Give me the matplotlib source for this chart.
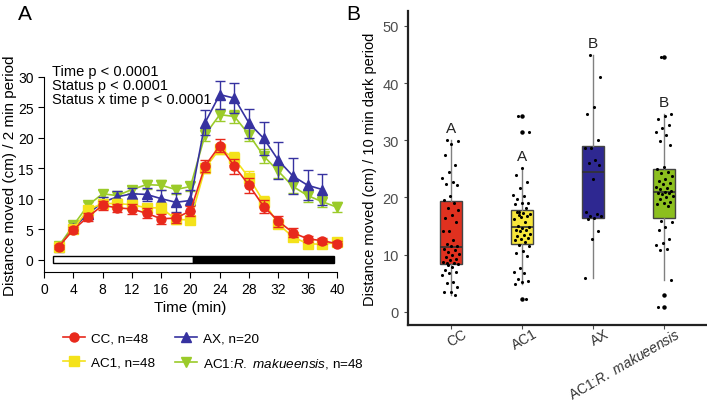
import numpy as np
import matplotlib
matplotlib.use('Agg')
import matplotlib.pyplot as plt
import matplotlib.transforms as mtransforms
from matplotlib.lines import Line2D
from matplotlib.patches import Rectangle

plt.rcParams['font.family'] = ['Liberation Sans', 'DejaVu Sans']
plt.rcParams['mathtext.fontset'] = 'custom'
plt.rcParams['mathtext.it'] = 'Liberation Sans:italic'
plt.rcParams['mathtext.rm'] = 'Liberation Sans'

# ---- panel A: time course ----
t = np.arange(2, 41, 2)
cc = [2.1, 4.9, 7.0, 8.9, 8.5, 8.3, 7.6, 6.7, 6.8, 8.0, 15.4, 18.7, 15.3, 12.2, 8.7, 6.3, 4.4, 3.4, 3.1, 2.6]
cc_err = [0.3, 0.5, 0.6, 0.7, 0.7, 0.8, 0.8, 0.8, 0.8, 0.8, 1.0, 1.1, 1.2, 1.2, 1.1, 0.9, 0.7, 0.5, 0.5, 0.4]
ac1 = [2.1, 5.0, 8.2, 9.2, 9.2, 9.0, 8.5, 8.5, 6.6, 6.5, 15.0, 18.2, 16.6, 13.4, 9.5, 5.8, 3.7, 2.6, 2.5, 2.8]
ac1_err = [0.3, 0.5, 0.6, 0.6, 0.7, 0.7, 0.7, 0.8, 0.7, 0.7, 0.8, 0.8, 1.0, 1.1, 0.9, 0.7, 0.6, 0.5, 0.5, 0.5]
ax_m = [2.0, 5.2, 7.5, 9.4, 10.3, 10.8, 10.7, 10.0, 9.4, 9.7, 22.5, 27.1, 26.5, 22.4, 19.9, 16.3, 13.7, 12.2, 11.5]
ax_err = [0.3, 0.6, 0.8, 0.9, 0.9, 1.0, 1.1, 1.5, 1.6, 1.8, 2.1, 2.3, 2.5, 2.4, 2.7, 3.0, 3.0, 2.5, 2.6]
rm = [2.2, 5.6, 8.9, 10.8, 10.5, 11.5, 12.3, 12.2, 11.5, 12.0, 20.5, 23.8, 23.5, 20.5, 17.0, 14.5, 12.0, 10.5, 9.5, 8.6]
rm_err = [0.3, 0.5, 0.6, 0.6, 0.6, 0.6, 0.7, 0.8, 0.8, 0.8, 1.0, 1.0, 1.1, 1.1, 1.1, 1.1, 1.0, 1.0, 0.9, 0.8]

labels_a = ['CC, n=48', 'AC1, n=48', 'AX, n=20', r'AC1:$\it{R.\ makueensis}$, n=48']
colors_a = ['#E8291C', '#F4E21A', '#3632A0', '#9BCB2A']
markers_a = ['o', 's', '^', 'v']
stats_text = ['Time p < 0.0001', 'Status p < 0.0001', 'Status x time p < 0.0001']

# ---- panel B: dark period boxplots ----
groups = ['CC', 'AC1', 'AX', 'AC1:$\\it{R.\\ makueensis}$']
box_colors = ['#E0311F', '#F7E53B', '#2E2891', '#8CBF1E']
letters = ['A', 'A', 'B', 'B']
# q1, median, q3, lower whisker, upper whisker
q1 = [8.4, 11.8, 16.5, 16.5]
med = [11.4, 14.9, 24.4, 21.0]
q3 = [19.3, 17.8, 29.0, 24.9]
wlo = [3.0, 4.9, 5.9, 5.6]
whi = [30.1, 25.1, 44.9, 34.6]

pts_cc = [30.1, 29.8, 29.3, 27.4, 25.6, 24.4, 23.4, 22.7, 22.3, 22.2, 20.2, 19.6,
          19.0, 18.2, 17.8, 17.0, 16.5, 15.8, 14.2, 14.2, 12.5, 11.8, 11.6, 11.5,
          11.0, 10.8, 10.5, 10.2, 10.0, 9.6, 9.3, 9.0, 8.8, 8.6, 8.5, 8.4,
          7.8, 7.3, 7.0, 6.8, 6.4, 5.2, 5.1, 4.4, 3.5, 3.4, 3.0, 8.2]
pts_ac1 = [34.3, 31.5, 25.1, 24.0, 22.7, 21.7, 20.4, 20.3, 19.8, 19.0, 19.0, 18.9, 18.2,
           17.4, 17.1, 17.3, 17.5, 16.8, 16.6, 16.2, 15.7, 15.1, 14.9, 14.7, 14.4, 14.3,
           14.1, 13.7, 13.5, 13.2, 12.9, 12.7, 12.6, 12.3,
           11.7, 11.6, 10.7, 10.3, 9.8, 7.6, 6.9, 6.8, 5.7, 5.4, 5.2, 4.9, 2.2, 16.9]
pts_ax = [44.9, 41.0, 35.8, 34.6, 30.0, 28.6, 28.6, 26.5, 26.0, 25.6, 23.3,
          17.5, 17.2, 16.8, 16.7, 16.4, 16.3, 14.1, 12.7, 5.9]
pts_rm = [44.5, 34.6, 34.3, 33.8, 32.6, 32.2, 31.5, 30.9, 29.9, 29.1, 25.4,
          24.9, 24.5, 24.2, 23.8, 23.3, 22.9, 22.6, 22.3, 21.9, 21.6, 21.4, 21.2, 21.0,
          20.8, 20.8, 20.6, 20.3, 20.0, 19.8, 19.2, 19.0, 18.8, 18.5,
          15.9, 15.7, 14.8, 14.3, 12.8, 12.0, 11.7, 11.0, 10.8, 5.6, 2.9, 0.8]
points = [pts_cc, pts_ac1, pts_ax, pts_rm]

fig = plt.figure(figsize=(7.07, 4.02), dpi=100)

# ================= A =================
axA = fig.add_axes([0.0622, 0.3216, 0.4144, 0.4846])
series = [rm, ax_m, ac1, cc]
errs = [rm_err, ax_err, ac1_err, cc_err]
idx = [3, 2, 1, 0]
for k, (y, e) in enumerate(zip(series, errs)):
    i = idx[k]
    tt = t[:len(y)]
    axA.errorbar(tt, y, yerr=e, fmt='none', ecolor=colors_a[i], elinewidth=1.0,
                 capsize=3.5, capthick=1.0, zorder=2 + k, clip_on=False)
    axA.plot(tt, y, color=colors_a[i], marker=markers_a[i], markersize=6.5,
             linewidth=1.2, zorder=2 + k, clip_on=False)

# light / dark bar
axA.add_patch(Rectangle((1.2, -0.55), 19.1, 1.1, facecolor='white', edgecolor='black', lw=1.0, zorder=5))
axA.add_patch(Rectangle((20.3, -0.55), 19.3, 1.1, facecolor='black', edgecolor='black', lw=1.0, zorder=5))

axA.set_xlim(0, 40)
axA.set_ylim(-2, 30)
axA.set_xticks(np.arange(0, 41, 4))
axA.set_yticks(np.arange(0, 31, 5))
axA.spines['top'].set_visible(False)
axA.spines['right'].set_visible(False)
axA.tick_params(direction='out', length=4, labelsize=10)
axA.set_xlabel('Time (min)', fontsize=11, labelpad=3)
axA.set_ylabel('Distance moved (cm) / 2 min period', fontsize=11, labelpad=1)
for j, s in enumerate(stats_text):
    fig.text(0.073, 0.821 - j * 0.035, s, fontsize=10.5, va='center')

handles = [Line2D([], [], color=colors_a[i], marker=markers_a[i], markersize=6.5, lw=1.2) for i in range(4)]
fig.legend(handles, labels_a, ncol=2, loc='upper left', bbox_to_anchor=(0.082, 0.185),
           frameon=False, fontsize=9.7, handlelength=1.6, handletextpad=0.45,
           columnspacing=1.5, labelspacing=0.85, borderaxespad=0)

fig.text(0.026, 0.965, 'A', fontsize=15, va='center')
fig.text(0.490, 0.965, 'B', fontsize=15, va='center')

# ================= B =================
axB = fig.add_axes([0.577, 0.189, 0.423, 0.781])
stats = []
for i in range(4):
    fl = [v for v in points[i] if v < wlo[i] or v > whi[i]]
    stats.append(dict(med=med[i], q1=q1[i], q3=q3[i], whislo=wlo[i], whishi=whi[i], fliers=fl))
pos = np.arange(1, 5)
bp = axB.bxp(stats, positions=pos, widths=0.31, patch_artist=True, showcaps=False,
             boxprops=dict(edgecolor='#444444', linewidth=1.0),
             medianprops=dict(color='#333333', linewidth=1.2),
             whiskerprops=dict(color='#808080', linewidth=1.0),
             flierprops=dict(marker='o', markerfacecolor='black', markeredgecolor='black', markersize=2.2))
for patch, c in zip(bp['boxes'], box_colors):
    patch.set_facecolor(c)

for i in range(4):
    n = len(points[i])
    jit = ((np.arange(n) * 0.618034 + 0.3) % 1 - 0.5) * 0.24
    axB.scatter(pos[i] + jit, points[i], s=5, color='black', zorder=4, linewidths=0)
    axB.text(pos[i], whi[i] + 0.9, letters[i], ha='center', va='bottom', fontsize=11, color='#222222')

axB.set_xlim(0.4, 4.6)
axB.set_ylim(-2.3, 52.6)
axB.set_yticks(np.arange(0, 51, 10))
axB.set_xticks(pos)
axB.set_xticklabels([])
# rotated category labels, shifted like ggplot's angle=30 labels
lab_tr = mtransforms.blended_transform_factory(axB.transData, axB.transAxes) + \
    mtransforms.ScaledTranslation(0.11, -0.01, fig.dpi_scale_trans)
for p, g in zip(pos, groups):
    axB.text(p, 0, g, transform=lab_tr, rotation=30, ha='right', va='top',
             rotation_mode='anchor', fontsize=10, color='#333333')
axB.tick_params(axis='both', colors='#4D4D4D', length=3, labelsize=10.5)
axB.tick_params(axis='y', labelsize=10.5, labelcolor='#4D4D4D')
for s in ['top', 'right']:
    axB.spines[s].set_visible(False)
for s in ['left', 'bottom']:
    axB.spines[s].set_linewidth(1.6)
    axB.spines[s].set_color('#222222')
axB.set_ylabel('Distance moved (cm) / 10 min dark period', fontsize=10.5, labelpad=4)

fig.savefig('out.png', dpi=100)
